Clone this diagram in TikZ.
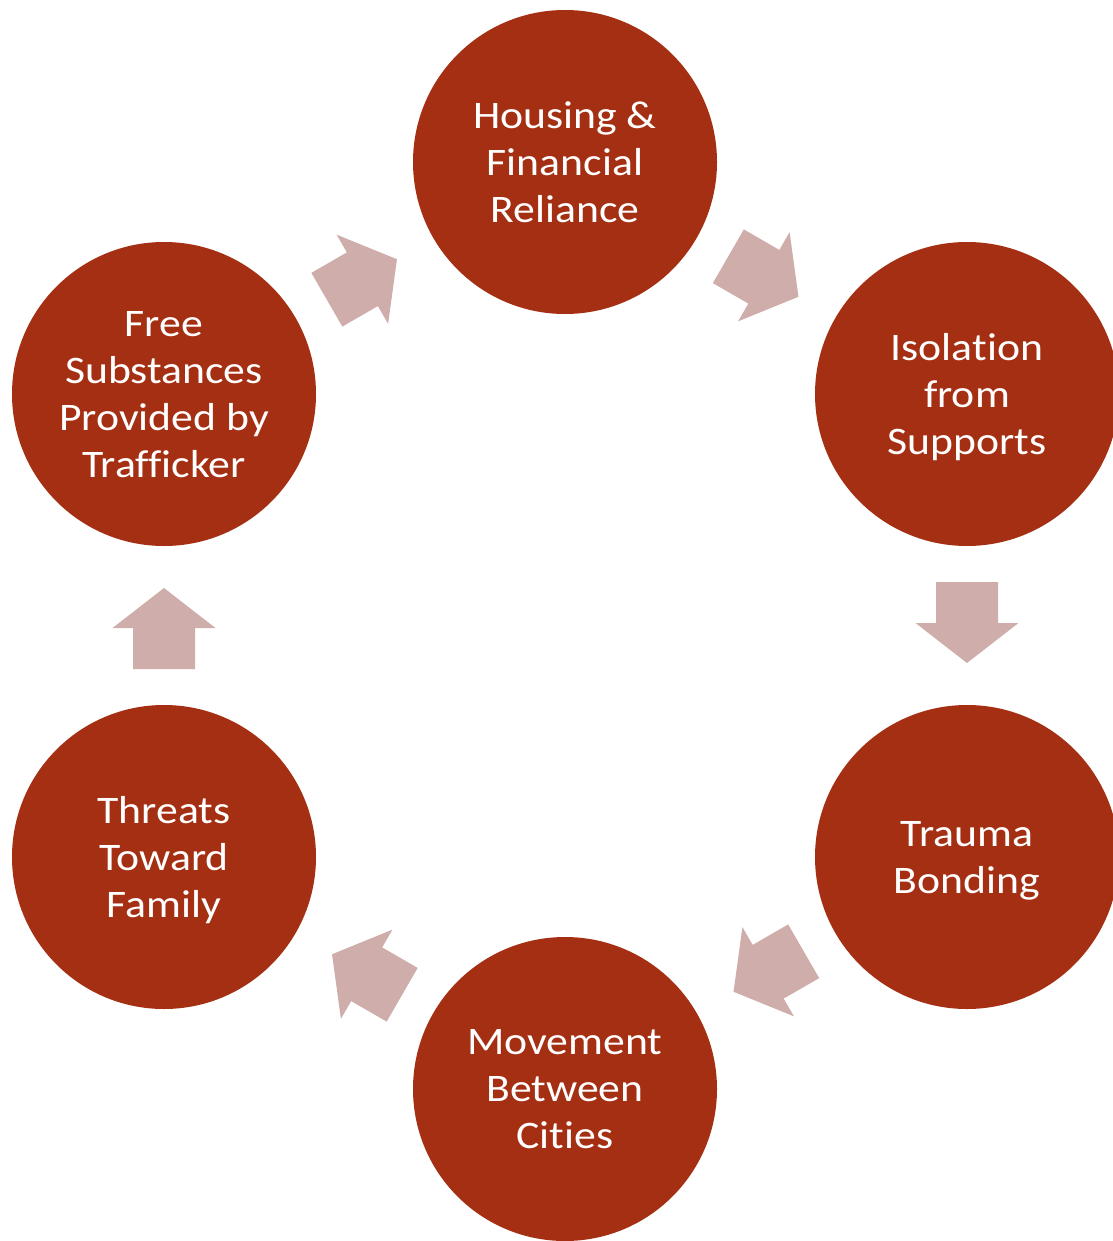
\documentclass[tikz,border=0pt]{standalone}
\usepackage{fontspec}
\setmainfont[FakeStretch=1.12,Ligatures=NoCommon]{Carlito}
\usepackage{tikz}
\usetikzlibrary{calc}
\definecolor{rust}{HTML}{A52F12}
\definecolor{blush}{HTML}{CFADAA}
\tikzstyle{stage} = [
    circle,
    fill=rust,
    text=white,
    minimum size=304pt,
    inner sep=0pt,
    align=center,
    text depth=0pt,
    font=\fontsize{39}{47}\selectfont
]
\tikzstyle{flow} = [
    fill=blush
]
\newcommand{\blockarrow}{(-43.5,-31) -- (-2.5,-31) -- (-2.5,-51.5) -- (37.5,0) -- (-2.5,51.5) -- (-2.5,31) -- (-43.5,31) -- cycle}

\begin{document}
\begin{tikzpicture}[x=1pt,y=-1pt]
\useasboundingbox (0,0) rectangle (1112,1241);
\node[stage] (housing)   at (565,162)  {Housing \&\\Financial\\Reliance};
\node[stage] (isolation) at (967,394)  {Isolation\\from\\Supports};
\node[stage] (trauma)    at (967,857)  {Trauma\\Bonding};
\node[stage] (movement)  at (565,1089) {Movement\\Between\\Cities};
\node[stage] (threats)   at (164,857)  {Threats\\Toward\\Family};
\node[stage] (free)      at (164,394)  {Free\\Substances\\Provided by\\Trafficker};
\fill[flow, shift={($(housing)!0.5!(isolation)$)}, rotate=-30]  \blockarrow;
\fill[flow, shift={($(isolation)!0.5!(trauma)$)}, rotate=-90]   \blockarrow;
\fill[flow, shift={($(trauma)!0.5!(movement)$)}, rotate=-150]   \blockarrow;
\fill[flow, shift={($(movement)!0.5!(threats)$)}, rotate=150]   \blockarrow;
\fill[flow, shift={($(threats)!0.5!(free)$)}, rotate=90]        \blockarrow;
\fill[flow, shift={($(free)!0.5!(housing)$)}, rotate=30]        \blockarrow;
\end{tikzpicture}
\end{document}
